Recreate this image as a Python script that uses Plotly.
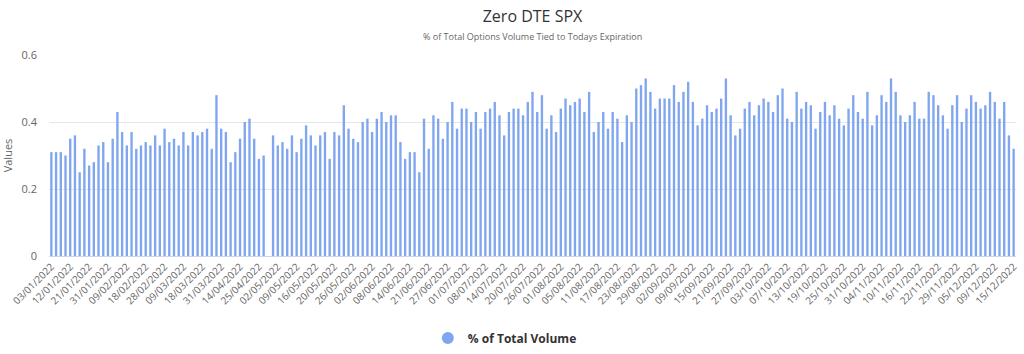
import plotly.graph_objects as go

values = [
    0.31, 0.31, 0.31, 0.30, 0.35, 0.36, 0.25, 0.32, 0.27, 0.28,
    0.33, 0.34, 0.28, 0.35, 0.43, 0.37, 0.33, 0.37, 0.32, 0.33,
    0.34, 0.33, 0.36, 0.33, 0.38, 0.34, 0.35, 0.33, 0.37, 0.33,
    0.37, 0.36, 0.37, 0.38, 0.32, 0.48, 0.38, 0.37, 0.28, 0.31,
    0.35, 0.40, 0.41, 0.35, 0.29, 0.30, None, 0.36, 0.33, 0.34,
    0.32, 0.36, 0.31, 0.35, 0.39, 0.36, 0.33, 0.36, 0.37, 0.29,
    0.37, 0.36, 0.45, 0.38, 0.35, 0.34, 0.40, 0.41, 0.37, 0.41,
    0.43, 0.40, 0.42, 0.42, 0.34, 0.29, 0.31, 0.31, 0.25, 0.41,
    0.32, 0.42, 0.41, 0.35, 0.40, 0.46, 0.38, 0.44, 0.44, 0.40,
    0.43, 0.38, 0.43, 0.44, 0.46, 0.42, 0.36, 0.43, 0.44, 0.44,
    0.42, 0.46, 0.49, 0.43, 0.48, 0.38, 0.42, 0.37, 0.44, 0.47,
    0.45, 0.46, 0.47, 0.43, 0.49, 0.37, 0.40, 0.43, 0.38, 0.43,
    0.41, 0.34, 0.42, 0.40, 0.50, 0.51, 0.53, 0.49, 0.44, 0.47,
    0.47, 0.47, 0.51, 0.46, 0.49, 0.52, 0.46, 0.39, 0.41, 0.45,
    0.43, 0.44, 0.47, 0.53, 0.42, 0.36, 0.38, 0.44, 0.46, 0.42,
    0.45, 0.47, 0.46, 0.43, 0.48, 0.50, 0.41, 0.40, 0.49, 0.44,
    0.46, 0.45, 0.38, 0.43, 0.46, 0.42, 0.45, 0.41, 0.39, 0.44,
    0.48, 0.43, 0.41, 0.49, 0.39, 0.42, 0.48, 0.46, 0.53, 0.49,
    0.42, 0.40, 0.42, 0.46, 0.41, 0.41, 0.49, 0.48, 0.45, 0.42,
    0.38, 0.45, 0.48, 0.40, 0.44, 0.48, 0.46, 0.44, 0.45, 0.49,
    0.46, 0.41, 0.46, 0.36, 0.32,
]

tick_labels = [
    "03/01/2022", "12/01/2022", "21/01/2022", "31/01/2022", "09/02/2022",
    "18/02/2022", "28/02/2022", "09/03/2022", "18/03/2022", "31/03/2022",
    "14/04/2022", "25/04/2022", "02/05/2022", "09/05/2022", "16/05/2022",
    "20/05/2022", "26/05/2022", "02/06/2022", "08/06/2022", "14/06/2022",
    "21/06/2022", "27/06/2022", "01/07/2022", "08/07/2022", "14/07/2022",
    "20/07/2022", "26/07/2022", "01/08/2022", "05/08/2022", "11/08/2022",
    "17/08/2022", "23/08/2022", "29/08/2022", "02/09/2022", "09/09/2022",
    "15/09/2022", "21/09/2022", "27/09/2022", "03/10/2022", "07/10/2022",
    "13/10/2022", "19/10/2022", "25/10/2022", "31/10/2022", "04/11/2022",
    "10/11/2022", "16/11/2022", "22/11/2022", "29/11/2022", "05/12/2022",
    "09/12/2022", "15/12/2022",
]
label_step = 4
series_name = "% of Total Volume"

x_idx = list(range(len(values)))
tick_vals = [i * label_step for i in range(len(tick_labels))]

BAR = "#7fa6ee"
FONT = "Open Sans, Liberation Sans, sans-serif"

fig = go.Figure()
fig.add_trace(go.Bar(
    x=x_idx, y=values, width=0.5,
    marker=dict(color=BAR, line=dict(width=0)),
    showlegend=False, name=series_name,
))
fig.add_trace(go.Scatter(
    x=[None], y=[None], mode="markers",
    marker=dict(color=BAR, size=11, symbol="circle"),
    name="<b>" + series_name + "</b>", showlegend=True,
))

fig.update_layout(
    width=1024, height=354,
    paper_bgcolor="white", plot_bgcolor="white",
    margin=dict(l=49, r=8, t=55, b=98, autoexpand=False),
    font=dict(family=FONT, color="#666666", size=11),
    title=dict(text="Zero DTE SPX", x=0.5, xref="paper", xanchor="center",
               y=1 - 16 / 354, yref="container", yanchor="middle",
               font=dict(size=16, color="#333333", family=FONT)),
    annotations=[dict(text="% of Total Options Volume Tied to Todays Expiration",
                      xref="paper", yref="paper", x=0.5, y=1 + 18 / 201,
                      xanchor="center", yanchor="middle", showarrow=False,
                      font=dict(size=9, color="#666666", family=FONT))],
    xaxis=dict(range=[-0.5, len(values) - 0.5], tickmode="array",
               tickvals=tick_vals, ticktext=tick_labels, tickangle=-45,
               tickfont=dict(size=10, color="#666666"), automargin=False,
               showgrid=False, zeroline=False, showline=True,
               linecolor="#ccd6eb", linewidth=1, ticks=""),
    yaxis=dict(range=[0, 0.6], tickvals=[0, 0.2, 0.4, 0.6],
               ticktext=["0", "0.2", "0.4", "0.6"],
               tickfont=dict(size=11, color="#666666"),
               ticklabelstandoff=11, automargin=False,
               showgrid=True, gridcolor="#e6e6e6", gridwidth=1,
               zeroline=False, showline=False, ticks="",
               title=dict(text="Values", font=dict(size=11, color="#666666"),
                          standoff=6)),
    legend=dict(orientation="h", x=0.493, xanchor="center",
                xref="container", yref="container", y=16 / 354,
                yanchor="middle", font=dict(size=12, color="#333333"),
                itemsizing="constant"),
    bargap=0.5,
)

fig.write_html("out.html")
